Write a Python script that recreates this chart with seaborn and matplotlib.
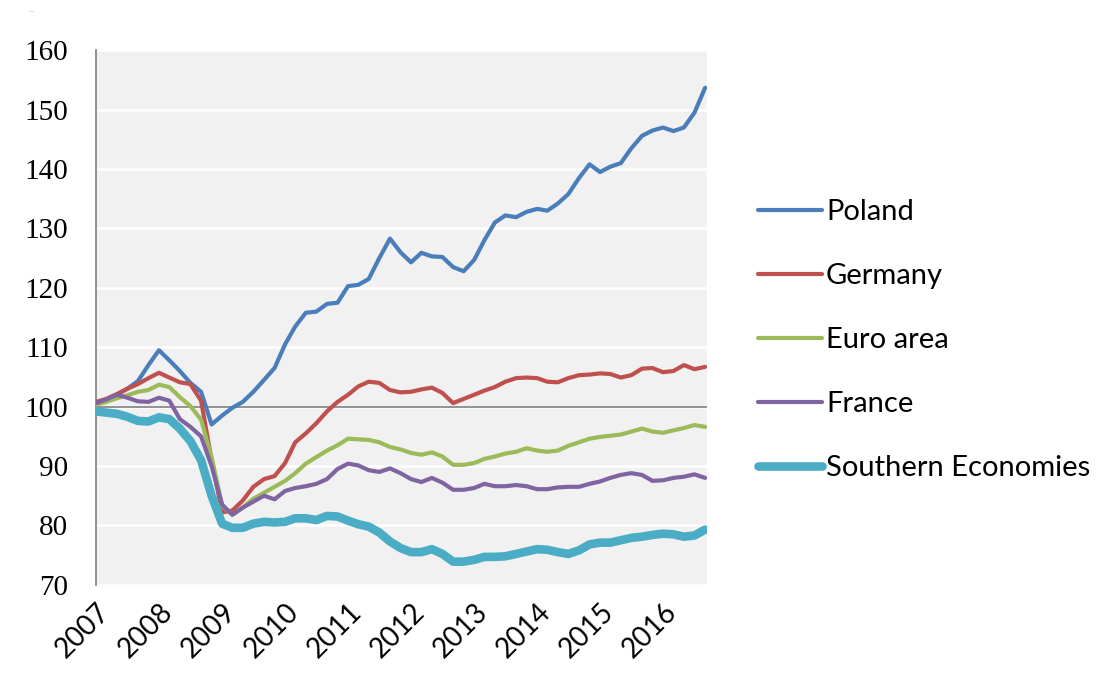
import matplotlib
matplotlib.use('Agg')
import numpy as np
import pandas as pd
import seaborn as sns
import matplotlib.pyplot as plt
import matplotlib.dates as mdates

# bimonthly readings, Jan 2007 - Sep 2016
dates = pd.date_range('2007-01-01', periods=59, freq='2MS')

poland = [100.5, 101.2, 102.0, 103.0, 104.3, 107.0, 109.5, 107.8, 106.0, 104.0,
          102.5, 97.0, 98.5, 99.8, 100.8, 102.5, 104.5, 106.5, 110.5, 113.5,
          115.8, 116.0, 117.3, 117.5, 120.3, 120.5, 121.5, 125.0, 128.3, 126.0,
          124.3, 125.9, 125.3, 125.2, 123.5, 122.8, 124.7, 128.0, 131.0, 132.2,
          131.9, 132.8, 133.3, 133.0, 134.2, 135.8, 138.5, 140.8, 139.5, 140.4,
          141.0, 143.5, 145.6, 146.5, 147.0, 146.4, 147.0, 149.5, 153.7]
germany = [100.8, 101.3, 102.1, 103.0, 103.8, 104.8, 105.7, 104.9, 104.1, 103.8,
           101.0, 91.0, 82.2, 82.5, 84.2, 86.5, 87.8, 88.3, 90.5, 94.0,
           95.5, 97.2, 99.2, 100.8, 102.0, 103.4, 104.2, 104.0, 102.8, 102.4,
           102.5, 102.9, 103.2, 102.3, 100.6, 101.3, 102.0, 102.7, 103.3, 104.2,
           104.8, 104.9, 104.8, 104.2, 104.1, 104.8, 105.3, 105.4, 105.6, 105.5,
           104.9, 105.3, 106.4, 106.5, 105.8, 106.0, 107.0, 106.3, 106.7]
euro_area = [100.3, 100.8, 101.4, 101.9, 102.5, 102.8, 103.7, 103.3, 101.6, 100.1,
             97.8, 91.5, 83.3, 81.8, 83.0, 84.5, 85.5, 86.5, 87.5, 88.8,
             90.4, 91.5, 92.6, 93.5, 94.6, 94.5, 94.4, 94.0, 93.2, 92.8,
             92.2, 91.9, 92.3, 91.6, 90.2, 90.2, 90.5, 91.2, 91.6, 92.1,
             92.4, 93.0, 92.6, 92.4, 92.6, 93.4, 94.0, 94.6, 94.9, 95.1,
             95.3, 95.8, 96.3, 95.8, 95.6, 96.0, 96.4, 96.9, 96.6]
france = [100.6, 101.2, 102.0, 101.5, 100.9, 100.8, 101.5, 101.0, 97.9, 96.6,
          95.0, 90.0, 83.5, 81.8, 83.0, 84.0, 85.0, 84.4, 85.8, 86.3,
          86.6, 87.0, 87.8, 89.5, 90.4, 90.1, 89.3, 89.0, 89.6, 88.8,
          87.8, 87.3, 88.0, 87.2, 86.0, 86.0, 86.3, 87.0, 86.6, 86.6,
          86.8, 86.6, 86.1, 86.1, 86.4, 86.5, 86.5, 87.0, 87.4, 88.0,
          88.5, 88.8, 88.5, 87.5, 87.6, 88.0, 88.2, 88.6, 88.0]
southern = [99.2, 99.0, 98.8, 98.3, 97.6, 97.5, 98.2, 97.9, 96.3, 94.2,
            91.0, 85.0, 80.3, 79.6, 79.6, 80.3, 80.6, 80.5, 80.6, 81.2,
            81.2, 80.9, 81.6, 81.5, 80.8, 80.2, 79.8, 78.8, 77.3, 76.2,
            75.5, 75.5, 76.0, 75.2, 73.9, 73.9, 74.2, 74.7, 74.7, 74.8,
            75.2, 75.6, 76.0, 75.9, 75.5, 75.2, 75.8, 76.8, 77.1, 77.1,
            77.5, 77.9, 78.1, 78.4, 78.6, 78.5, 78.1, 78.3, 79.3]

names = ['Poland', 'Germany', 'Euro area', 'France', 'Southern Economies']
values = [poland, germany, euro_area, france, southern]
colors = ['#4a7ebb', '#c0504d', '#9bbb59', '#8064a2', '#4bacc6']
widths = [3.0, 3.0, 3.0, 3.0, 6.2]

df = pd.concat([pd.DataFrame({'date': dates, 'value': v, 'series': n})
                for n, v in zip(names, values)], ignore_index=True)

sns.set_style('white', rc={'axes.facecolor': '#f1f1f1'})
plt.rcParams['font.family'] = ['Lato', 'DejaVu Sans']

fig = plt.figure(figsize=(10.96, 6.8), dpi=100)
ax = fig.add_axes([0.0876, 0.14, 0.5575, 0.786])

for n, c, w in zip(names, colors, widths):
    sns.lineplot(data=df[df['series'] == n], x='date', y='value', color=c,
                 linewidth=w, label=n, ax=ax, zorder=3)

ax.axhline(100, color='#808080', lw=1.2, zorder=2)
ax.set_ylim(70, 160)
ax.set_yticks(np.arange(70, 161, 10))
ax.yaxis.grid(True, color='white', lw=1.8)
ax.xaxis.grid(False)
ax.set_axisbelow(True)
ax.set_xlim(pd.Timestamp('2007-01-01'), pd.Timestamp('2016-09-12'))
ax.xaxis.set_major_locator(mdates.YearLocator())
ax.xaxis.set_major_formatter(mdates.DateFormatter('%Y'))
ax.set_xlabel('')
ax.set_ylabel('')

for s in ['top', 'right', 'bottom']:
    ax.spines[s].set_visible(False)
ax.spines['left'].set_color('#868686')
ax.spines['left'].set_linewidth(1.3)

ax.tick_params(axis='y', length=7, width=1.2, color='#868686', pad=13,
               labelsize=21, labelcolor='black')
for lab in ax.get_yticklabels():
    lab.set_family(['Liberation Serif'])
ax.tick_params(axis='x', length=0, pad=10, labelsize=20, labelcolor='black')
for lab in ax.get_xticklabels():
    lab.set_rotation(45)
    lab.set_ha('right')
    lab.set_rotation_mode('anchor')

leg = ax.legend(loc='center left', bbox_to_anchor=(0.6916, 0.5),
                bbox_transform=fig.transFigure, frameon=False, fontsize=21,
                handlelength=2.2, handletextpad=0.13, labelspacing=1.3,
                borderpad=0, borderaxespad=0)
for t in leg.get_texts():
    t.set_color('black')

fig.text(0.026, 0.982, '...', fontsize=6, color='#aaaaaa')

fig.savefig('out.png', dpi=100)
